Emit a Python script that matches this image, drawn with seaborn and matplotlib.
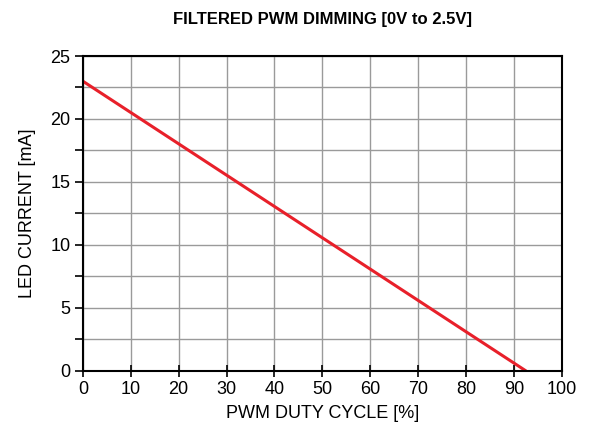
import matplotlib
matplotlib.use("Agg")
import matplotlib.pyplot as plt
import seaborn as sns
import pandas as pd
from matplotlib.ticker import MultipleLocator

duty_cycle = [0, 92.5]
led_current = [23, 0]
x_ticks = list(range(0, 101, 10))
y_ticks = list(range(0, 26, 5))

sns.set_theme(style="white")
plt.rcParams['font.family'] = ['Liberation Sans', 'DejaVu Sans']

df = pd.DataFrame({"duty": duty_cycle, "current": led_current})

fig = plt.figure(figsize=(5.92, 4.41), dpi=100)
ax = fig.add_axes([0.140, 0.159, 0.809, 0.714])

sns.lineplot(data=df, x="duty", y="current", ax=ax, color="#e8202a", linewidth=2.2)

ax.set_xlim(0, 100)
ax.set_ylim(0, 25)
ax.set_xticks(x_ticks)
ax.set_yticks(y_ticks)
ax.yaxis.set_minor_locator(MultipleLocator(2.5))
ax.grid(True, which="major", color="#9a9a9a", linewidth=1.0)
ax.grid(True, which="minor", axis="y", color="#9a9a9a", linewidth=1.0)
ax.set_axisbelow(True)

for s in ax.spines.values():
    s.set_color("black")
    s.set_linewidth(1.5)

ax.tick_params(axis="x", which="major", direction="inout", length=8, width=1.2, colors="black",
               labelsize=13, pad=3, bottom=True)
ax.tick_params(axis="y", which="both", direction="out", length=6, width=1.2, colors="black",
               labelsize=13, left=True, pad=3)
ax.tick_params(axis="y", which="minor", length=6)

ax.set_xlabel("PWM DUTY CYCLE [%]", fontsize=13, labelpad=5, color="black")
ax.set_ylabel("LED CURRENT [mA]", fontsize=13, labelpad=10, color="black")
ax.set_title("FILTERED PWM DIMMING [0V to 2.5V]", fontsize=12, fontweight="bold", pad=23, color="black")

fig.savefig("out.png", dpi=100)
